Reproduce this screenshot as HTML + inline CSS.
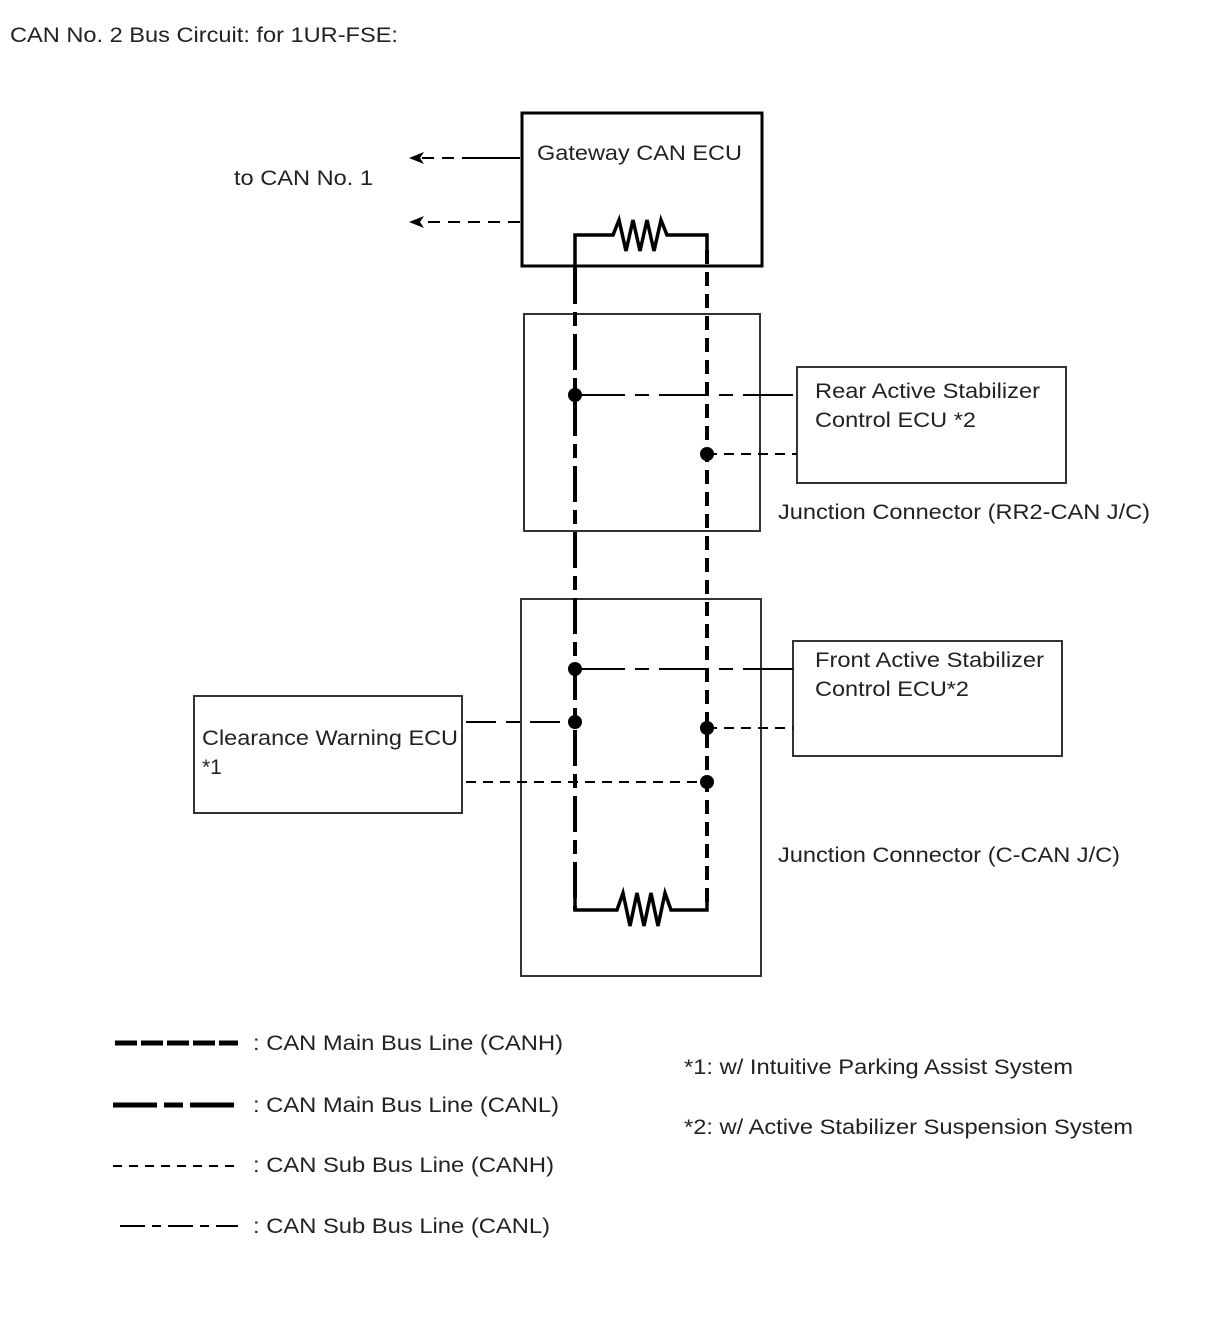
<!DOCTYPE html>
<html><head><meta charset="utf-8"><style>
html,body{margin:0;padding:0;background:#fff;}
svg{display:block;}
text{font-family:"Liberation Sans",Arial,sans-serif;font-size:21px;fill:#222;}
</style></head><body>
<svg width="1210" height="1328" viewBox="0 0 1210 1328" xmlns="http://www.w3.org/2000/svg">
<text x="10" y="42" textLength="388" lengthAdjust="spacingAndGlyphs">CAN No. 2 Bus Circuit: for 1UR-FSE:</text>

<!-- Gateway -->
<rect x="522" y="113" width="240" height="153" fill="none" stroke="#000" stroke-width="3"/>
<text x="537" y="160" textLength="205" lengthAdjust="spacingAndGlyphs">Gateway CAN ECU</text>
<text x="234" y="185" textLength="139" lengthAdjust="spacingAndGlyphs">to CAN No. 1</text>
<line x1="520" y1="158" x2="474" y2="158" stroke="#000" stroke-width="2"/>
<line x1="474" y1="158" x2="415" y2="158" stroke="#000" stroke-width="2" stroke-dasharray="12,8"/>
<path d="M409 158 L424 152 L420 158 L424 164 Z" fill="#000"/>
<line x1="520" y1="222" x2="415" y2="222" stroke="#000" stroke-width="2" stroke-dasharray="12,8"/>
<path d="M409 222 L424 216 L420 222 L424 228 Z" fill="#000"/>
<!-- top resistor -->
<polyline points="575,300 575,235 613,235 619,220 626,251 633,220 640,251 647,220 654,251 661,220 667,235 707,235 707,250" fill="none" stroke="#000" stroke-width="3.5"/>

<!-- Junction boxes -->
<rect x="524" y="314" width="236" height="217" fill="none" stroke="#333" stroke-width="2"/>
<text x="778" y="519" textLength="372" lengthAdjust="spacingAndGlyphs">Junction Connector (RR2-CAN J/C)</text>
<rect x="521" y="599" width="240" height="377" fill="none" stroke="#333" stroke-width="2"/>
<text x="778" y="862" textLength="342" lengthAdjust="spacingAndGlyphs">Junction Connector (C-CAN J/C)</text>

<!-- main bus lines -->
<line x1="575" y1="268" x2="575" y2="910" stroke="#000" stroke-width="4" stroke-dasharray="36,8,14,8"/>
<line x1="707" y1="250" x2="707" y2="910" stroke="#000" stroke-width="4" stroke-dasharray="14,8"/>
<!-- bottom resistor -->
<polyline points="575,890 575,910 617,910 623,893 630,926 637,893 644,926 651,893 658,926 665,893 671,910 707,910 707,890" fill="none" stroke="#000" stroke-width="3.5"/>

<!-- Rear ECU -->
<rect x="797" y="367" width="269" height="116" fill="none" stroke="#333" stroke-width="2"/>
<text x="815" y="398" textLength="225" lengthAdjust="spacingAndGlyphs">Rear Active Stabilizer</text>
<text x="815" y="427" textLength="161" lengthAdjust="spacingAndGlyphs">Control ECU *2</text>
<line x1="575" y1="395" x2="797" y2="395" stroke="#000" stroke-width="2" stroke-dasharray="50,10,14,10"/>
<line x1="707" y1="454" x2="797" y2="454" stroke="#000" stroke-width="2" stroke-dasharray="10,7"/>
<circle cx="575" cy="395" r="7" fill="#000"/>
<circle cx="707" cy="454" r="7" fill="#000"/>

<!-- Front ECU -->
<rect x="793" y="641" width="269" height="115" fill="none" stroke="#333" stroke-width="2"/>
<text x="815" y="667" textLength="229" lengthAdjust="spacingAndGlyphs">Front Active Stabilizer</text>
<text x="815" y="696" textLength="154" lengthAdjust="spacingAndGlyphs">Control ECU*2</text>
<line x1="575" y1="669" x2="793" y2="669" stroke="#000" stroke-width="2" stroke-dasharray="50,10,14,10"/>
<line x1="707" y1="728" x2="793" y2="728" stroke="#000" stroke-width="2" stroke-dasharray="10,7"/>
<circle cx="575" cy="669" r="7" fill="#000"/>
<circle cx="707" cy="728" r="7" fill="#000"/>

<!-- Clearance Warning -->
<rect x="194" y="696" width="268" height="117" fill="none" stroke="#333" stroke-width="2"/>
<text x="202" y="745" textLength="256" lengthAdjust="spacingAndGlyphs">Clearance Warning ECU</text>
<text x="202" y="774">*1</text>
<line x1="466" y1="722" x2="575" y2="722" stroke="#000" stroke-width="2" stroke-dasharray="30,10,14,10"/>
<line x1="466" y1="782" x2="707" y2="782" stroke="#000" stroke-width="2" stroke-dasharray="10,7"/>
<circle cx="575" cy="722" r="7" fill="#000"/>
<circle cx="707" cy="782" r="7" fill="#000"/>

<!-- Legend -->
<line x1="115" y1="1043" x2="238" y2="1043" stroke="#000" stroke-width="5" stroke-dasharray="22,4"/>
<text x="253" y="1050" textLength="310" lengthAdjust="spacingAndGlyphs">: CAN Main Bus Line (CANH)</text>
<line x1="113" y1="1105" x2="238" y2="1105" stroke="#000" stroke-width="5" stroke-dasharray="44,7,19,7"/>
<text x="253" y="1112" textLength="306" lengthAdjust="spacingAndGlyphs">: CAN Main Bus Line (CANL)</text>
<line x1="113" y1="1166" x2="238" y2="1166" stroke="#000" stroke-width="2" stroke-dasharray="9,7"/>
<text x="253" y="1172" textLength="301" lengthAdjust="spacingAndGlyphs">: CAN Sub Bus Line (CANH)</text>
<line x1="120" y1="1226" x2="238" y2="1226" stroke="#000" stroke-width="2" stroke-dasharray="25,7,9,7"/>
<text x="253" y="1233" textLength="297" lengthAdjust="spacingAndGlyphs">: CAN Sub Bus Line (CANL)</text>
<text x="684" y="1074" textLength="389" lengthAdjust="spacingAndGlyphs">*1: w/ Intuitive Parking Assist System</text>
<text x="684" y="1134" textLength="449" lengthAdjust="spacingAndGlyphs">*2: w/ Active Stabilizer Suspension System</text>
</svg>
</body></html>
